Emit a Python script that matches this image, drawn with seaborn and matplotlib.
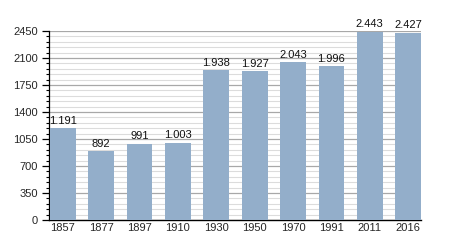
import matplotlib
matplotlib.use("Agg")
import matplotlib.pyplot as plt
import seaborn as sns
import pandas as pd
from matplotlib.ticker import MultipleLocator

years = ["1857", "1877", "1897", "1910", "1930", "1950", "1970", "1991", "2011", "2016"]
population = [1191, 892, 991, 1003, 1938, 1927, 2043, 1996, 2443, 2427]
labels = ["1.191", "892", "991", "1.003", "1.938", "1.927", "2.043", "1.996", "2.443", "2.427"]
yticks = [0, 350, 700, 1050, 1400, 1750, 2100, 2450]

sns.set_style("white")
plt.rcParams['font.family'] = ['Liberation Sans', 'DejaVu Sans']

df = pd.DataFrame({"year": years, "pop": population})

fig = plt.figure(figsize=(4.5, 2.5), dpi=100)
ax = fig.add_axes([49/450, 30/250, (421-49)/450, (220-31)/250])

sns.barplot(data=df, x="year", y="pop", color="#93aeca", saturation=1,
            width=0.67, ax=ax, linewidth=0, zorder=3)

for i, (v, t) in enumerate(zip(population, labels)):
    ax.text(i, v + 30, t, ha="center", va="bottom", fontsize=8, color="#111111")

ax.set_ylim(0, 2450)
ax.set_xlim(-0.36, 9.335)
ax.set_yticks(yticks)
ax.yaxis.set_minor_locator(MultipleLocator(70))
ax.grid(axis="y", which="major", color="#a8a8a8", linewidth=0.9, zorder=0)
ax.grid(axis="y", which="minor", color="#dcdcdc", linewidth=0.8, zorder=0)
ax.set_axisbelow(True)

for s in ["top", "right"]:
    ax.spines[s].set_visible(False)
ax.spines["left"].set_color("black")
ax.spines["bottom"].set_color("black")
ax.spines["left"].set_linewidth(0.9)
ax.spines["bottom"].set_linewidth(1.0)

ax.tick_params(axis="y", which="major", direction="out", length=5, width=0.9,
               labelsize=8, pad=3, left=True, color="black")
ax.tick_params(axis="y", which="minor", direction="out", length=2.5, width=0.8,
               left=True, color="black")
ax.tick_params(axis="x", length=0, labelsize=8, pad=2)
ax.set_xlabel("")
ax.set_ylabel("")

fig.savefig("out.png", dpi=100)
